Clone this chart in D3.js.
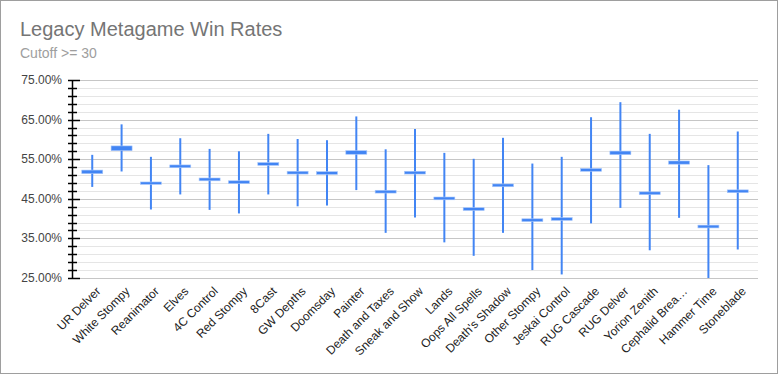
<!DOCTYPE html>
<html>
<head>
<meta charset="utf-8">
<script src="https://cdn.jsdelivr.net/npm/d3@7"></script>
<style>
  body { margin: 0; background: #fff; }
  svg { font-family: Arial, "Liberation Sans", sans-serif; display: block; }
</style>
</head>
<body>
<svg id="drawing_region"></svg>
<script>
const width = 779;
const height = 375;

const decks = ["UR Delver", "White Stompy", "Reanimator", "Elves", "4C Control", "Red Stompy",
  "8Cast", "GW Depths", "Doomsday", "Painter", "Death and Taxes", "Sneak and Show", "Lands",
  "Oops All Spells", "Death's Shadow", "Other Stompy", "Jeskai Control", "RUG Cascade",
  "RUG Delver", "Yorion Zenith", "Cephalid Breakfast", "Hammer Time", "Stoneblade"];
const low  = [48.0, 51.9, 42.3, 46.1, 42.2, 41.3, 46.1, 43.1, 43.3, 47.2, 36.4, 40.3, 34.0,
  30.6, 36.4, 27.0, 25.9, 38.8, 42.7, 32.0, 40.2, 25.0, 32.2];
const high = [56.1, 63.8, 55.6, 60.3, 57.6, 57.0, 61.4, 60.1, 59.8, 65.8, 57.5, 62.6, 56.6,
  55.1, 60.4, 53.9, 55.6, 65.6, 69.4, 61.4, 67.5, 53.5, 62.0];
const open  = [52.0, 58.1, 49.0, 53.3, 50.0, 49.3, 53.9, 51.7, 51.6, 56.9, 46.9, 51.7, 45.2,
  42.5, 48.5, 39.7, 40.0, 52.4, 56.8, 46.5, 54.3, 38.1, 47.0];
const close = [51.6, 57.4, 48.9, 53.1, 49.8, 49.1, 53.7, 51.5, 51.4, 56.5, 46.7, 51.5, 45.0,
  42.3, 48.3, 39.5, 39.8, 52.2, 56.4, 46.3, 54.0, 37.9, 46.8];
const yTicks = [25, 35, 45, 55, 65, 75];

const data = decks.map((d, i) => ({deck: d, low: low[i], high: high[i], open: open[i], close: close[i]}));

const margin = {left: 72, right: 21, top: 80, bottom: 97};
const svg = d3.select('#drawing_region')
    .attr('width', width)
    .attr('height', height);

// outer frame
svg.append("rect")
    .attr("x", 0.5).attr("y", 0.5)
    .attr("width", width - 2).attr("height", height - 2)
    .attr("fill", "#fff")
    .attr("stroke", "#9e9e9e");

svg.append("text")
    .attr("x", 20).attr("y", 36)
    .attr("font-size", "20px")
    .attr("fill", "#757575")
    .text("Legacy Metagame Win Rates");
svg.append("text")
    .attr("x", 20).attr("y", 58)
    .attr("font-size", "14px")
    .attr("fill", "#9e9e9e")
    .text("Cutoff >= 30");

const xscale = d3.scalePoint()
    .domain(decks)
    .range([margin.left, width - margin.right])
    .padding(0.69);

const yscale = d3.scaleLinear()
    .domain([25, 75])
    .range([height - margin.bottom, margin.top]);

// minor gridlines every 2%
const minorVals = d3.range(0, 26).map(i => 25 + i * 2).filter(v => (v - 25) % 10 !== 0);
const py = d => Math.round(yscale(d)) + 0.5;

svg.append("g")
    .selectAll("line")
    .data(minorVals)
    .join("line")
    .attr("x1", margin.left).attr("x2", width - margin.right)
    .attr("y1", py).attr("y2", py)
    .attr("stroke", "#e5e5e5");

svg.append("g")
    .selectAll("line")
    .data(yTicks)
    .join("line")
    .attr("x1", margin.left).attr("x2", width - margin.right)
    .attr("y1", py).attr("y2", py)
    .attr("stroke", "#c6c6c6");

// axis line and ticks
const ax = svg.append("g");
ax.append("line")
    .attr("x1", margin.left + 0.5).attr("x2", margin.left + 0.5)
    .attr("y1", yscale(75)).attr("y2", yscale(25) + 1)
    .attr("stroke", "#000").attr("stroke-width", 1.5);
ax.selectAll("line.minor")
    .data(minorVals)
    .join("line")
    .attr("class", "minor")
    .attr("x1", margin.left - 4).attr("x2", margin.left + 5)
    .attr("y1", py).attr("y2", py)
    .attr("stroke", "#000").attr("stroke-width", 1.5);
ax.selectAll("line.major")
    .data(yTicks)
    .join("line")
    .attr("class", "major")
    .attr("x1", margin.left - 4).attr("x2", margin.left + 8)
    .attr("y1", py).attr("y2", py)
    .attr("stroke", "#000").attr("stroke-width", 1.5);

svg.append("g")
    .selectAll("text")
    .data(yTicks)
    .join("text")
    .attr("x", 62)
    .attr("y", d => yscale(d) + 4)
    .attr("text-anchor", "end")
    .attr("font-size", "12px")
    .attr("fill", "#444")
    .text(d => d3.format(".2f")(d) + "%");

// x labels
const short = s => s.length > 15 ? s.slice(0, 13) + "…" : s;
svg.append("g")
    .selectAll("text")
    .data(decks)
    .join("text")
    .attr("transform", d => `translate(${xscale(d) + 6},${yscale(25) + 11}) rotate(-45)`)
    .attr("text-anchor", "end")
    .attr("dy", "0.35em")
    .attr("font-size", "12px")
    .attr("fill", "#222")
    .text(d => short(d));

// whiskers
const color = "#4285f4";
svg.append("g")
    .selectAll("line")
    .data(data)
    .join("line")
    .attr("x1", d => xscale(d.deck)).attr("x2", d => xscale(d.deck))
    .attr("y1", d => yscale(d.high)).attr("y2", d => yscale(d.low))
    .attr("stroke", color).attr("stroke-width", 2);

// candle bodies
svg.append("g")
    .selectAll("rect")
    .data(data)
    .join("rect")
    .attr("x", d => xscale(d.deck) - 10.5)
    .attr("width", 21)
    .attr("y", d => yscale(Math.max(d.open, d.close)) - 1)
    .attr("height", d => Math.abs(yscale(d.open) - yscale(d.close)) + 2)
    .attr("fill", color)
    .attr("stroke", "#a8c7fa")
    .attr("stroke-width", 0.6);
</script>
</body>
</html>
